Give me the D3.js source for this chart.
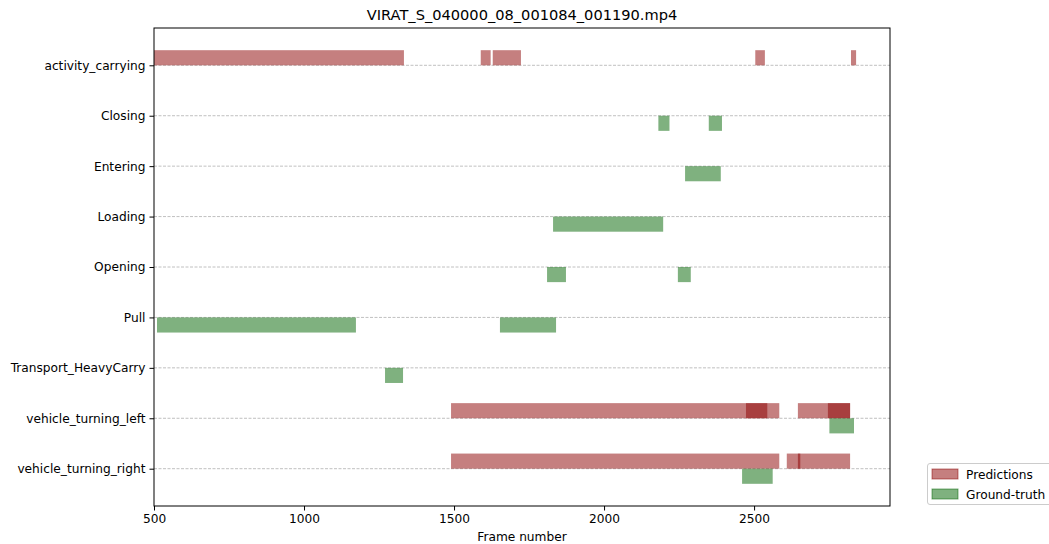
<!DOCTYPE html>
<html>
<head>
<meta charset="utf-8">
<script src="https://cdn.jsdelivr.net/npm/d3@7"></script>
<style>
  html, body { margin: 0; padding: 0; background: #fff; }
  svg { display: block; font-family: "DejaVu Sans", sans-serif; }
</style>
</head>
<body>
<svg id="chart" width="1049" height="544"></svg>
<script>
// Activity names, top to bottom
const activities = [
  "activity_carrying", "Closing", "Entering", "Loading", "Opening",
  "Pull", "Transport_HeavyCarry", "vehicle_turning_left", "vehicle_turning_right"
];

// Predicted segments: [activity, start frame, end frame]
const predictions = [
  ["activity_carrying", 500, 1333],
  ["activity_carrying", 1589, 1622],
  ["activity_carrying", 1629, 1723],
  ["activity_carrying", 2504, 2536],
  ["activity_carrying", 2823, 2840],
  ["vehicle_turning_left", 1490, 2584],
  ["vehicle_turning_left", 2473, 2544],
  ["vehicle_turning_left", 2646, 2820],
  ["vehicle_turning_left", 2746, 2820],
  ["vehicle_turning_right", 1490, 2584],
  ["vehicle_turning_right", 2609, 2820],
  ["vehicle_turning_right", 2646, 2654]
];

// Ground-truth segments: [activity, start frame, end frame]
const groundTruth = [
  ["Closing", 2181, 2218],
  ["Closing", 2349, 2393],
  ["Entering", 2270, 2389],
  ["Loading", 1830, 2197],
  ["Opening", 1810, 1873],
  ["Opening", 2246, 2289],
  ["Pull", 510, 1173],
  ["Pull", 1653, 1840],
  ["Transport_HeavyCarry", 1270, 1330],
  ["vehicle_turning_left", 2751, 2833],
  ["vehicle_turning_right", 2460, 2562]
];

const xTicks = [500, 1000, 1500, 2000, 2500];
const frameRange = [500, 2953];
const legendLabels = ["Predictions", "Ground-truth"];

const svg = d3.select("#chart");
const plot = { left: 154, right: 890, top: 28, bottom: 506 };

const x = d3.scaleLinear().domain(frameRange).range([plot.left, plot.right]);
const y = d3.scaleLinear().domain([-0.74, activities.length - 1 + 0.74]).range([plot.top, plot.bottom]);
const rowOf = name => activities.indexOf(name);
const barH = 0.3;

const predColor = "#8b0000", gtColor = "#006400", alpha = 0.5;

// dashed row guides
svg.append("g").selectAll("line").data(activities).join("line")
  .attr("x1", plot.left).attr("x2", plot.right)
  .attr("y1", d => y(rowOf(d))).attr("y2", d => y(rowOf(d)))
  .attr("stroke", "#b0b0b0").attr("stroke-width", 0.8)
  .attr("stroke-dasharray", "3,1.5");

const clip = svg.append("clipPath").attr("id", "plotclip").append("rect")
  .attr("x", plot.left).attr("y", plot.top)
  .attr("width", plot.right - plot.left).attr("height", plot.bottom - plot.top);

const bars = svg.append("g").attr("clip-path", "url(#plotclip)");

// predictions sit just above each row line
bars.append("g").selectAll("rect").data(predictions).join("rect")
  .attr("x", d => x(d[1])).attr("width", d => x(d[2]) - x(d[1]))
  .attr("y", d => y(rowOf(d[0]) - barH)).attr("height", d => y(barH) - y(0))
  .attr("fill", predColor).attr("fill-opacity", alpha);

// ground truth sits just below each row line
bars.append("g").selectAll("rect").data(groundTruth).join("rect")
  .attr("x", d => x(d[1])).attr("width", d => x(d[2]) - x(d[1]))
  .attr("y", d => y(rowOf(d[0]))).attr("height", d => y(barH) - y(0))
  .attr("fill", gtColor).attr("fill-opacity", alpha);

// frame
svg.append("rect")
  .attr("x", plot.left).attr("y", plot.top)
  .attr("width", plot.right - plot.left).attr("height", plot.bottom - plot.top)
  .attr("fill", "none").attr("stroke", "#000").attr("stroke-width", 1);

// x axis
const xAxis = svg.append("g").attr("transform", `translate(0,${plot.bottom})`)
  .call(d3.axisBottom(x).tickValues(xTicks).tickSize(4.5).tickPadding(4).tickFormat(d3.format("d")));
xAxis.select(".domain").remove();
xAxis.selectAll("text").attr("font-size", "12.2px").attr("fill", "#000").attr("font-family", "DejaVu Sans");
xAxis.selectAll("line").attr("stroke", "#000");

// y axis
const yAxis = svg.append("g").attr("transform", `translate(${plot.left},0)`)
  .call(d3.axisLeft(y).tickValues(d3.range(activities.length)).tickSize(4.5).tickPadding(4)
    .tickFormat(i => activities[i]));
yAxis.select(".domain").remove();
yAxis.selectAll("text").attr("font-size", "12.2px").attr("fill", "#000").attr("font-family", "DejaVu Sans");
yAxis.selectAll("line").attr("stroke", "#000");

// title and axis label
svg.append("text").attr("x", (plot.left + plot.right) / 2).attr("y", 20)
  .attr("text-anchor", "middle").attr("font-size", "14.6px").attr("fill", "#000")
  .text("VIRAT_S_040000_08_001084_001190.mp4");
svg.append("text").attr("x", (plot.left + plot.right) / 2).attr("y", 541)
  .attr("text-anchor", "middle").attr("font-size", "12.2px").attr("fill", "#000")
  .text("Frame number");

// legend
const legend = svg.append("g").attr("transform", "translate(927,463)");
legend.append("rect").attr("x", 0.5).attr("y", 0.5).attr("width", 140).attr("height", 41)
  .attr("rx", 2.5).attr("fill", "#fff").attr("fill-opacity", 0.8)
  .attr("stroke", "#cccccc").attr("stroke-width", 1);
const entries = legend.selectAll("g.entry").data(legendLabels).join("g")
  .attr("class", "entry")
  .attr("transform", (d, i) => `translate(0,${i * 20})`);
entries.append("rect").attr("x", 5).attr("y", 6).attr("width", 26).attr("height", 10)
  .attr("fill", (d, i) => i === 0 ? predColor : gtColor).attr("fill-opacity", alpha)
  .attr("stroke", (d, i) => i === 0 ? predColor : gtColor).attr("stroke-opacity", alpha);
entries.append("text").attr("x", 39).attr("y", 15.5)
  .attr("font-size", "12.2px").attr("fill", "#000").text(d => d);
</script>
</body>
</html>
